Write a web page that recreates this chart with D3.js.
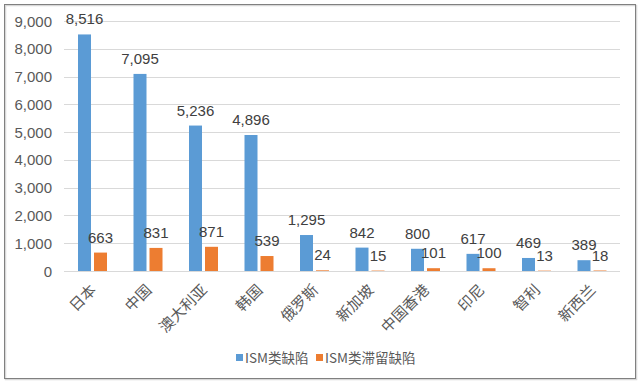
<!DOCTYPE html>
<html><head><meta charset="utf-8">
<script src="https://cdn.jsdelivr.net/npm/d3@7"></script>
<style>body{margin:0;background:#fff}svg{display:block}</style>
</head><body>
<script>
const categories = ["日本","中国","澳大利亚","韩国","俄罗斯","新加坡","中国香港","印尼","智利","新西兰"];
const seriesNames = ["ISM类缺陷","ISM类滞留缺陷"];
const ismDefects = [8516,7095,5236,4896,1295,842,800,617,469,389];
const ismDetained = [663,831,871,539,24,15,101,100,13,18];
const yTicks = [0,1000,2000,3000,4000,5000,6000,7000,8000,9000];
const colors = ["#5b9bd5","#ed7d31"];

const W = 640, H = 383;
const svg = d3.select("body").append("svg").attr("width", W).attr("height", H);
svg.append("rect").attr("width", W).attr("height", H).attr("fill", "#fff");
svg.append("rect").attr("x", 5.5).attr("y", 5.5).attr("width", 631).attr("height", 374).attr("fill", "none").attr("stroke", "#d8d8d8").attr("stroke-width", 1.5);
svg.append("rect").attr("x", 4.5).attr("y", 4.5).attr("width", 631).attr("height", 374).attr("fill", "none").attr("stroke", "#808080");

const x = d3.scaleBand().domain(categories).range([64.75, 619.75]).paddingInner(0).paddingOuter(0);
const y = d3.scaleLinear().domain([0, 9000]).range([271, 21]);
const x1 = d3.scaleBand().domain(seriesNames).range([-14.5, 14.5]).paddingInner(0.1875).paddingOuter(0);

const numFont = "'Liberation Sans', Arial, sans-serif";
const cjkFont = "'Noto Sans CJK SC', 'Liberation Sans', sans-serif";

// gridlines
svg.append("g").selectAll("line").data(yTicks).join("line")
  .attr("x1", 64).attr("x2", 620)
  .attr("y1", d => Math.round(y(d)) + 0.5).attr("y2", d => Math.round(y(d)) + 0.5)
  .attr("stroke", "#d9d9d9").attr("stroke-width", 1);

// y axis labels
svg.append("g").selectAll("text").data(yTicks).join("text")
  .attr("x", 52).attr("y", d => y(d) + 5.5)
  .attr("text-anchor", "end")
  .attr("font-family", numFont).attr("font-size", 15).attr("fill", "#595959")
  .text(d => d3.format(",")(d));

const rows = categories.map((c, i) => ({c, vals: [ismDefects[i], ismDetained[i]]}));

const g = svg.append("g").selectAll("g").data(rows).join("g")
  .attr("transform", d => `translate(${x(d.c) + x.bandwidth() / 2},0)`);

g.selectAll("rect").data(d => d.vals.map((v, k) => ({v, s: seriesNames[k], k}))).join("rect")
  .attr("x", d => x1(d.s)).attr("width", x1.bandwidth())
  .attr("y", d => y(d.v)).attr("height", d => y(0) - y(d.v))
  .attr("fill", d => colors[d.k]);

g.selectAll("text.v").data(d => d.vals.map((v, k) => ({v, s: seriesNames[k], k}))).join("text")
  .attr("class", "v")
  .attr("x", d => x1(d.s) + x1.bandwidth() / 2).attr("y", d => y(d.v) - 10)
  .attr("text-anchor", "middle")
  .attr("font-family", numFont).attr("font-size", 15).attr("fill", "#404040")
  .text(d => d3.format(",")(d.v));

// x labels
svg.append("g").selectAll("text").data(categories).join("text")
  .attr("transform", d => `translate(${x(d) + x.bandwidth() / 2 + 4.5},${291}) rotate(-45)`)
  .attr("text-anchor", "end")
  .attr("font-family", cjkFont).attr("font-size", 15).attr("fill", "#595959")
  .text(d => d);

// legend
const leg = svg.append("g");
const legItems = [{n: seriesNames[0], c: colors[0], x: 236}, {n: seriesNames[1], c: colors[1], x: 316}];
legItems.forEach(it => {
  leg.append("rect").attr("x", it.x).attr("y", 354).attr("width", 7).attr("height", 7).attr("fill", it.c);
  leg.append("text").attr("x", it.x + 9).attr("y", 363)
    .attr("font-family", cjkFont).attr("font-size", 13.5).attr("fill", "#595959").text(it.n);
});
</script>
</body></html>
